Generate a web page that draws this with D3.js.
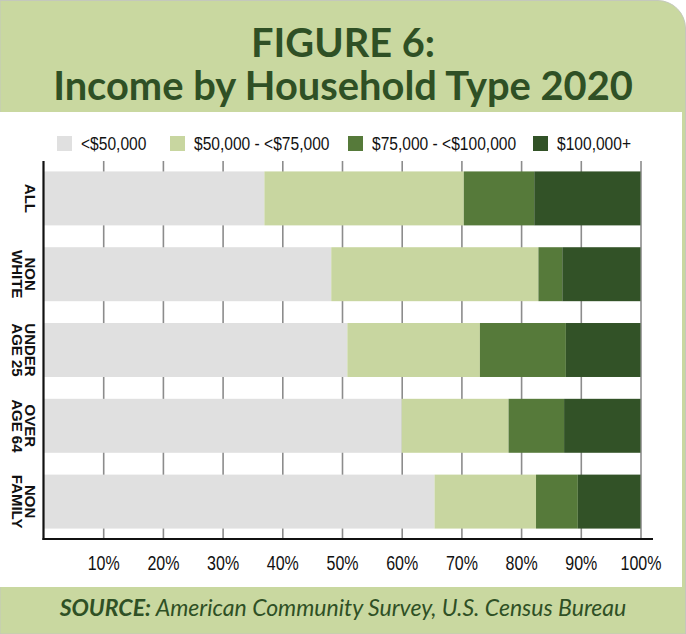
<!DOCTYPE html>
<html>
<head>
<meta charset="utf-8">
<script src="https://cdn.jsdelivr.net/npm/d3@7"></script>
<style>
  body { margin: 0; background: #ffffff; }
  svg { display: block; }
</style>
</head>
<body>
<div id="grafica"></div>
<script>

let categorias = ["ALL", "NON WHITE", "UNDER AGE 25", "OVER AGE 64", "NON FAMILY"];
let rangos = ["<$50,000", "$50,000 - <$75,000", "$75,000 - <$100,000", "$100,000+"];
let menos50 = [37.0, 48.2, 50.9, 60.0, 65.5];
let de50a75 = [33.4, 34.7, 22.2, 17.9, 17.0];
let de75a100 = [11.8, 4.0, 14.4, 9.3, 7.0];
let mas100 = [17.8, 13.1, 12.5, 12.8, 10.5];
let ticksx = [10, 20, 30, 40, 50, 60, 70, 80, 90, 100];
let colores = ["#e0e0e0", "#c8d6a0", "#567a3a", "#325227"];

let ancho = 686, alto = 634;
let verde = "#c9d8a0";
let oscuro = "#2f5025";

let svg = d3.select("#grafica").append("svg")
    .attr("width", ancho)
    .attr("height", alto);

// marco verde con la esquina superior derecha redondeada
let r = 28;
svg.append("path")
    .attr("d", `M0,0.5 H${ancho - r} A${r},${r} 0 0 1 ${ancho - 0.5},${r} V${alto} H0 Z`)
    .style("fill", verde)
    .style("stroke", "#c4c8bc")
    .style("stroke-width", 1);

svg.append("rect")
    .attr("x", 0)
    .attr("y", 112)
    .attr("width", 682)
    .attr("height", 475)
    .style("fill", "white");

// titulo
function ajustar(sel, w) {
    let l = sel.node().getComputedTextLength();
    let fs = parseFloat(sel.style("font-size"));
    sel.style("font-size", (fs * w / l) + "px");
}

let t1 = svg.append("text")
    .attr("x", ancho / 2)
    .attr("y", 57)
    .text("FIGURE 6:")
    .style("text-anchor", "middle")
    .style("font-family", "Lato, 'Open Sans', sans-serif")
    .style("font-weight", "bold")
    .style("font-size", "40px")
    .style("fill", oscuro);
ajustar(t1, 184);

let t2 = svg.append("text")
    .attr("x", ancho / 2)
    .attr("y", 100)
    .text("Income by Household Type 2020")
    .style("text-anchor", "middle")
    .style("font-family", "Lato, 'Open Sans', sans-serif")
    .style("font-weight", "bold")
    .style("font-size", "40px")
    .style("fill", oscuro);
ajustar(t2, 580);

// fuente
let fuente = svg.append("text")
    .attr("x", ancho / 2)
    .attr("y", 616)
    .style("text-anchor", "middle")
    .style("font-family", "Lato, 'Open Sans', sans-serif")
    .style("font-style", "italic")
    .style("font-size", "22px")
    .style("fill", oscuro);
fuente.append("tspan").style("font-weight", "bold").text("SOURCE:");
fuente.append("tspan").text(" American Community Survey, U.S. Census Bureau");
ajustar(fuente, 567);

// escalas
let x0 = 43.5, x1 = 640.5, ytop = 161, ybot = 539;
let xscale = d3.scaleLinear().domain([0, 100]).range([x0, x1]);
let yscale = d3.scaleBand().domain(categorias).range([ytop, ybot])
    .paddingInner(0.288)
    .paddingOuter(0.1375);

// rejilla y etiquetas del eje
let eje = svg.append("g")
    .attr("transform", `translate(0,${ybot})`)
    .call(d3.axisBottom(xscale)
        .tickValues(ticksx)
        .tickSize(-(ybot - ytop))
        .tickPadding(17)
        .tickFormat(d => d + "%"));

eje.select(".domain").remove();
eje.selectAll(".tick line")
    .style("stroke", "#8c8c8c")
    .style("stroke-width", 1.6);
eje.selectAll(".tick text")
    .attr("transform", "scale(0.8,1)")
    .style("font-family", "'Liberation Sans', Arial, sans-serif")
    .style("font-size", "20px")
    .style("fill", "#111");

// barras apiladas
let tabla = categorias.map((c, i) => ({
    cat: c, r0: menos50[i], r1: de50a75[i], r2: de75a100[i], r3: mas100[i]
}));
let pila = d3.stack().keys(["r0", "r1", "r2", "r3"])(tabla);

svg.selectAll(".serie")
    .data(pila)
    .enter()
    .append("g")
    .attr("class", "serie")
    .style("fill", (d, i) => colores[i])
    .selectAll("rect")
    .data(d => d)
    .enter()
    .append("rect")
    .attr("x", d => xscale(d[0]))
    .attr("y", d => yscale(d.data.cat))
    .attr("width", d => xscale(d[1]) - xscale(d[0]))
    .attr("height", yscale.bandwidth());

// ejes negros
svg.append("line")
    .attr("x1", x0).attr("x2", x0)
    .attr("y1", ytop).attr("y2", ybot + 1)
    .style("stroke", "#111")
    .style("stroke-width", 2.2);

svg.append("line")
    .attr("x1", x0 - 1).attr("x2", 653)
    .attr("y1", ybot).attr("y2", ybot)
    .style("stroke", "#111")
    .style("stroke-width", 2.2);

// etiquetas de categoria, giradas
svg.selectAll(".etiq")
    .data(categorias)
    .enter()
    .append("text")
    .attr("class", "etiq")
    .attr("transform", d => `translate(24.5,${yscale(d) + yscale.bandwidth() / 2}) rotate(90)`)
    .style("text-anchor", "middle")
    .style("font-family", "'Liberation Sans', Arial, sans-serif")
    .style("font-weight", "bold")
    .style("font-size", "15px")
    .style("fill", "#111")
    .each(function(d) {
        let k = d.indexOf(" ");
        let lineas = k == -1 ? [d] : [d.slice(0, k), d.slice(k + 1)];
        d3.select(this).selectAll("tspan")
            .data(lineas)
            .enter()
            .append("tspan")
            .attr("x", 0)
            .attr("y", (p, j) => j * 12.5)
            .text(p => p);
    });

// leyenda
let posleyenda = [57, 170, 348, 533];
let leyenda = svg.selectAll(".ley")
    .data(rangos)
    .enter()
    .append("g")
    .attr("class", "ley")
    .attr("transform", (d, i) => `translate(${posleyenda[i]},136)`);

leyenda.append("rect")
    .attr("width", 15)
    .attr("height", 15)
    .style("fill", (d, i) => colores[i]);

leyenda.append("text")
    .attr("transform", "translate(24,14) scale(0.82,1)")
    .text(d => d)
    .style("font-family", "'Liberation Sans', Arial, sans-serif")
    .style("font-size", "19px")
    .style("fill", "#111");

</script>
</body>
</html>
